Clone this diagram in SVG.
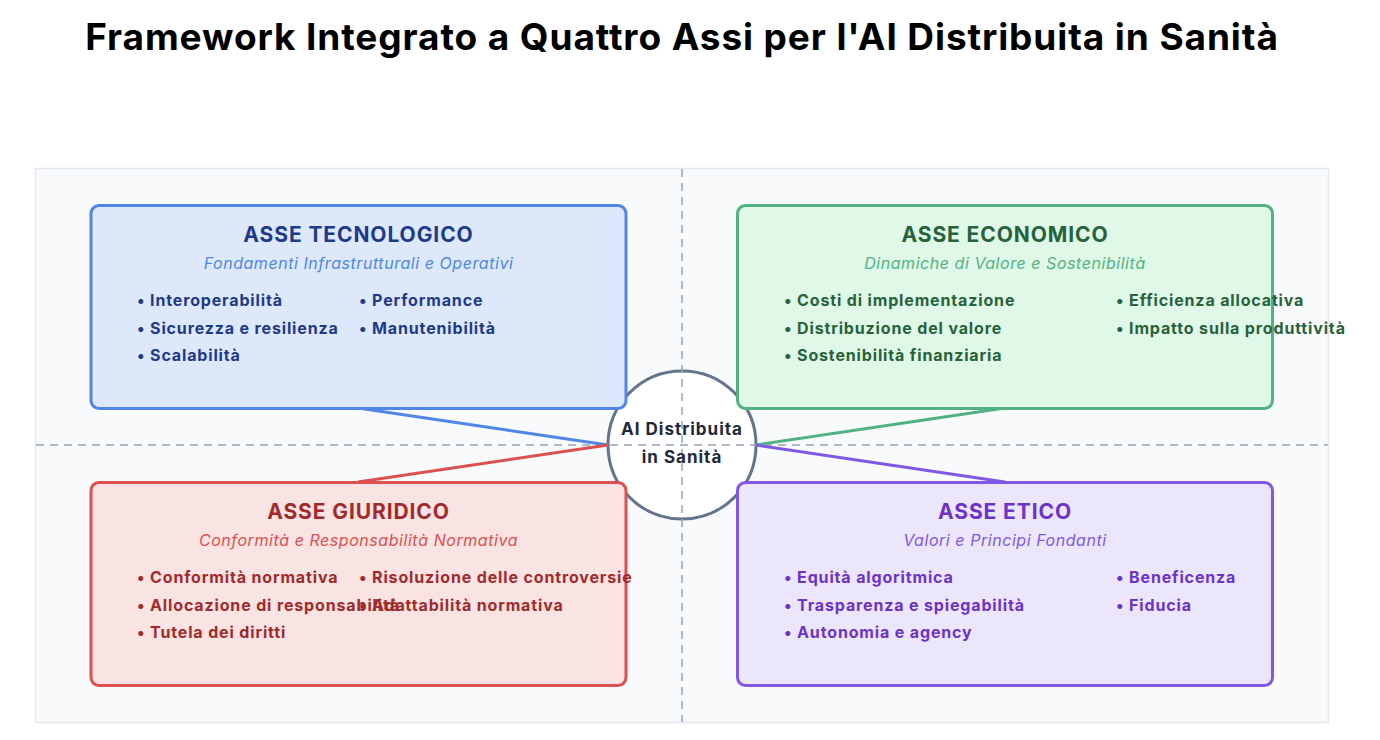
<svg xmlns="http://www.w3.org/2000/svg" width="1380" height="740" viewBox="0 0 1380 740">
<style>
text{font-family:Inter,"Liberation Sans",sans-serif}
.title{font-size:37px;font-weight:700;fill:#000;letter-spacing:0.9px}
.h{font-size:21px;font-weight:700;text-anchor:middle;letter-spacing:0.9px}
.sub{font-size:16px;font-style:italic;text-anchor:middle;letter-spacing:0.55px}
.it{font-size:16px;font-weight:700;letter-spacing:0.85px}
.ctr{font-size:17px;font-weight:700;fill:#1e293b;text-anchor:middle;letter-spacing:1px}
.box{stroke-width:3}
.axis{stroke:#94a3b8;stroke-width:1.5;stroke-dasharray:8 6;fill:none}
.conn{stroke-width:3;fill:none}
</style>
<rect width="1380" height="740" fill="#ffffff"/>
<text class="title" x="682" y="50" text-anchor="middle">Framework Integrato a Quattro Assi per l'AI Distribuita in Sanità</text>
<rect x="35.500" y="168.500" width="1293" height="554" fill="#f8fafc" stroke="#e2e8f0" stroke-width="1.500"/>
<g id="center">
<circle cx="682" cy="445" r="74" fill="#ffffff" stroke="#64748b" stroke-width="3"/>
</g>
<g id="axes">
<line class="axis" x1="682" y1="169" x2="682" y2="722"/>
<line class="axis" x1="36" y1="445" x2="1328" y2="445"/>
</g>
<g id="connectors">
<line class="conn" stroke="#4f86e8" x1="608" y1="445" x2="358" y2="408"/>
<line class="conn" stroke="#dc5050" x1="608" y1="445" x2="358" y2="482"/>
<line class="conn" stroke="#52b283" x1="756" y1="445" x2="1005" y2="408"/>
<line class="conn" stroke="#8257e6" x1="756" y1="445" x2="1005" y2="482"/>
</g>
<g id="center-label">
<text class="ctr" x="682" y="435">AI Distribuita</text>
<text class="ctr" x="682" y="463">in Sanità</text>
</g>
<g id="tecnologico">
<rect class="box" x="91" y="205.500" width="535" height="203" rx="8" fill="#dde8fa" stroke="#4f86e8"/>
<text class="h" x="358.500" y="242" fill="#1e3a8a">ASSE TECNOLOGICO</text>
<text class="sub" x="358.500" y="269" fill="#4f86e8">Fondamenti Infrastrutturali e Operativi</text>
<g class="it" fill="#1e3a8a">
<text x="137" y="306">• Interoperabilità</text>
<text x="137" y="334">• Sicurezza e resilienza</text>
<text x="137" y="361">• Scalabilità</text>
<text x="359" y="306">• Performance</text>
<text x="359" y="334">• Manutenibilità</text>
</g>
</g>
<g id="economico">
<rect class="box" x="737.500" y="205.500" width="535" height="203" rx="8" fill="#dff8e7" stroke="#52b283"/>
<text class="h" x="1005" y="242" fill="#27623a">ASSE ECONOMICO</text>
<text class="sub" x="1005" y="269" fill="#52b283">Dinamiche di Valore e Sostenibilità</text>
<g class="it" fill="#27623a">
<text x="784" y="306">• Costi di implementazione</text>
<text x="784" y="334">• Distribuzione del valore</text>
<text x="784" y="361">• Sostenibilità finanziaria</text>
<text x="1116" y="306">• Efficienza allocativa</text>
<text x="1116" y="334">• Impatto sulla produttività</text>
</g>
</g>
<g id="giuridico">
<rect class="box" x="91" y="482.500" width="535" height="203" rx="8" fill="#f9e3e3" stroke="#dc5050"/>
<text class="h" x="358.500" y="519" fill="#a12a2a">ASSE GIURIDICO</text>
<text class="sub" x="358.500" y="546" fill="#dc5050">Conformità e Responsabilità Normativa</text>
<g class="it" fill="#a12a2a">
<text x="137" y="583">• Conformità normativa</text>
<text x="137" y="611">• Allocazione di responsabilità</text>
<text x="137" y="638">• Tutela dei diritti</text>
<text x="359" y="583">• Risoluzione delle controversie</text>
<text x="359" y="611">• Adattabilità normativa</text>
</g>
</g>
<g id="etico">
<rect class="box" x="737.500" y="482.500" width="535" height="203" rx="8" fill="#ece6fa" stroke="#8257e6"/>
<text class="h" x="1005" y="519" fill="#6d32c9">ASSE ETICO</text>
<text class="sub" x="1005" y="546" fill="#8257e6">Valori e Principi Fondanti</text>
<g class="it" fill="#6d32c9">
<text x="784" y="583">• Equità algoritmica</text>
<text x="784" y="611">• Trasparenza e spiegabilità</text>
<text x="784" y="638">• Autonomia e agency</text>
<text x="1116" y="583">• Beneficenza</text>
<text x="1116" y="611">• Fiducia</text>
</g>
</g>
</svg>
